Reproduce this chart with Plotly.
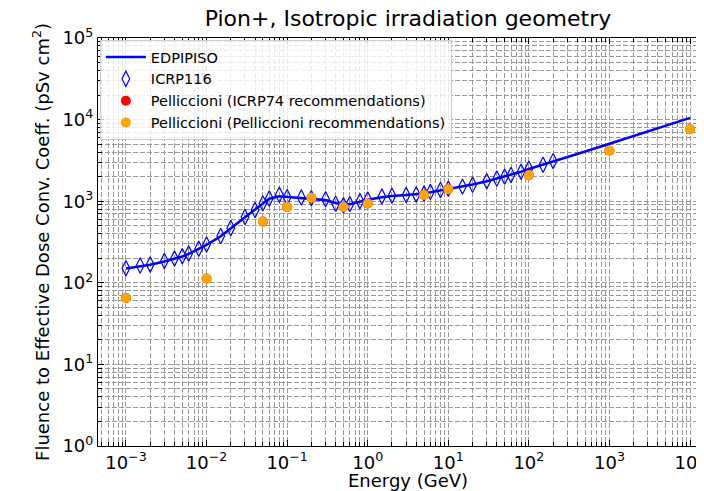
import plotly.graph_objects as go

# ICRP116 energies (GeV) and conversion coefficients (pSv cm2)
icrp_E = [0.001, 0.0015, 0.002, 0.003, 0.004, 0.005, 0.006, 0.008, 0.01, 0.015,
          0.02, 0.03, 0.04, 0.05, 0.06, 0.08, 0.1, 0.15, 0.2, 0.3, 0.4, 0.5,
          0.6, 0.8, 1, 1.5, 2, 3, 4, 5, 6, 8, 10, 15, 20, 30, 40, 50, 60, 80,
          100, 150, 200]
icrp_V = [151, 163, 168, 185, 198, 212, 228, 262, 295, 375,
          470, 640, 780, 940, 1080, 1200, 1120, 1110, 1090, 1060, 930, 890,
          920, 1000, 1050, 1140, 1170, 1190, 1210, 1240, 1300, 1370, 1420, 1510, 1590, 1760, 1900, 2000, 2100, 2300,
          2500, 2800, 3100]

# EDPIPISO curve
edp_E = [0.001, 0.0015, 0.002, 0.003, 0.004, 0.005, 0.006, 0.008, 0.01, 0.015,
         0.02, 0.03, 0.04, 0.05, 0.06, 0.08, 0.1, 0.15, 0.2, 0.3, 0.4, 0.5,
         0.6, 0.8, 1, 1.5, 2, 3, 4, 5, 6, 8, 10, 15, 20, 30, 40, 50, 60, 80,
         100, 150, 200, 300, 500, 1000, 2000, 5000, 10000]
edp_V = [150, 158, 166, 182, 196, 210, 226, 258, 292, 372,
         468, 636, 790, 945, 1070, 1150, 1130, 1110, 1080, 1030, 950, 905,
         920, 990, 1040, 1120, 1160, 1190, 1215, 1245, 1290, 1360, 1420, 1510, 1600, 1760, 1890, 2000, 2100, 2290,
         2480, 2800, 3080, 3460, 4065, 5060, 6300, 8410, 10500]

# Pelliccioni data (GeV, pSv cm2)
pel_E = [0.001, 0.01, 0.05, 0.1, 0.2, 0.5, 1, 5, 10, 100, 1000, 10000]
pel_icrp74 = [65, 113, 562, 851, 1100, 851, 936, 1189, 1400, 2078, 4145, 7590]
pel_pel = [65, 113, 562, 851, 1100, 851, 936, 1189, 1400, 2078, 4145, 7590]

x_tickvals = [1e-3, 1e-2, 1e-1, 1, 10, 100, 1000, 10000]
x_ticktext = ["10<sup>−3</sup>", "10<sup>−2</sup>", "10<sup>−1</sup>", "10<sup>0</sup>",
              "10<sup>1</sup>", "10<sup>2</sup>", "10<sup>3</sup>", "10<sup>4</sup>"]
y_tickvals = [1, 10, 100, 1000, 10000, 100000]
y_ticktext = ["10<sup>0</sup>", "10<sup>1</sup>", "10<sup>2</sup>", "10<sup>3</sup>",
              "10<sup>4</sup>", "10<sup>5</sup>"]

minor_vals = [m * 10.0 ** k for k in range(-4, 6) for m in range(2, 10)]

FONT = "DejaVu Sans"
GRID = "#999999"

fig = go.Figure()
fig.add_trace(go.Scatter(x=edp_E, y=edp_V, mode="lines", name="EDPIPISO",
                         line=dict(color="#0000ff", width=2.6)))
fig.add_trace(go.Scatter(x=icrp_E, y=icrp_V, mode="markers", name="ICRP116",
                         marker=dict(symbol="diamond-tall-open", size=11,
                                     color="#0000ff", line=dict(width=1.2, color="#0000ff"))))
fig.add_trace(go.Scatter(x=pel_E, y=pel_icrp74, mode="markers",
                         name="Pelliccioni (ICRP74 recommendations)",
                         marker=dict(symbol="circle", size=10, color="red")))
fig.add_trace(go.Scatter(x=pel_E, y=pel_pel, mode="markers",
                         name="Pelliccioni (Pelliccioni recommendations)",
                         marker=dict(symbol="circle", size=10, color="orange")))

axis_common = dict(
    type="log", tickmode="array", showline=True, linecolor="black", linewidth=1.2,
    ticks="inside", ticklen=6, tickwidth=1, tickcolor="black",
    showgrid=True, gridcolor=GRID, gridwidth=1, griddash="5px,2px",
    tickfont=dict(family=FONT, size=18, color="black"),
    ticklabeloverflow="allow",
    automargin=False,
    minor=dict(tickmode="array", tickvals=minor_vals, ticks="inside", ticklen=3.5,
               tickwidth=0.8, tickcolor="black", showgrid=True, gridcolor=GRID,
               gridwidth=1, griddash="5px,2px"),
    zeroline=False,
)

fig.update_xaxes(**axis_common, tickvals=x_tickvals, ticktext=x_ticktext,
                 range=[-3.347, 4.347], mirror="ticks",
                 title=dict(text="Energy (GeV)", font=dict(family=FONT, size=18, color="black"),
                            standoff=4))
fig.update_yaxes(**axis_common, tickvals=y_tickvals, ticktext=y_ticktext,
                 range=[0, 5], mirror="ticks",
                 title=dict(text="Fluence to Effective Dose Conv. Coeff. (pSv cm<sup>2</sup>)",
                            font=dict(family=FONT, size=18, color="black"), standoff=8))

# the page body has an 8px margin; the figure is offset by it
fig.update_layout(
    width=710, height=483,
    margin=dict(l=90, r=0, t=30, b=45),
    paper_bgcolor="white", plot_bgcolor="white",
    font=dict(family=FONT, color="black"),
    title=dict(text="Pion+, Isotropic irradiation geometry",
               font=dict(family=FONT, size=22, color="black"),
               x=400 / 710, xref="container", xanchor="center",
               y=1 - 10 / 483, yref="container", yanchor="middle"),
    showlegend=True,
    legend=dict(x=0.003, y=0.995, xanchor="left", yanchor="top", itemwidth=40,
                bgcolor="rgba(255,255,255,0.8)", bordercolor="#cccccc", borderwidth=1,
                font=dict(family=FONT, size=14.5, color="black")),
)

fig.write_html("out.html")
